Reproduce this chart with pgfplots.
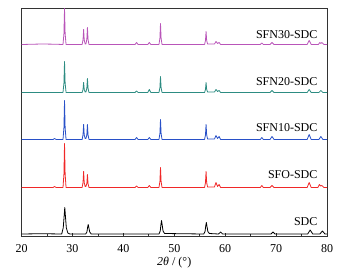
\documentclass[border=0pt]{standalone}
\usepackage{fontspec}
\setmainfont{Liberation Serif}
\usepackage{pgfplots}
\pgfplotsset{compat=1.18}
\definecolor{cSFNthirty}{RGB}{185,85,185}
\definecolor{cSFNtwenty}{RGB}{45,140,130}
\definecolor{cSFNten}{RGB}{40,80,200}
\definecolor{cSFO}{RGB}{240,40,40}
\begin{document}
\begin{tikzpicture}
\useasboundingbox (0,0) rectangle (344pt,271pt);
\begin{axis}[
  at={(21.5pt,34.5pt)}, anchor=south west,
  scale only axis, width=305.5pt, height=228pt,
  xmin=20, xmax=80, ymin=0, ymax=228,
  xtick={20,30,...,80}, minor xtick={25,35,...,75},
  ytick=\empty,
  tick align=inside, xtick pos=bottom,
  major tick length=3.5pt, minor tick length=3pt,
  axis line style={line width=0.8pt, black!80},
  every tick/.style={black!80, line width=0.6pt},
  tick label style={font=\fontsize{12}{12}\selectfont},
  /pgf/number format/assume math mode=true,
  xticklabel style={anchor=center, yshift=-12pt},
  xlabel={\fontsize{12}{12}\selectfont \textit{2θ} / (°)},
  xlabel style={at={(axis description cs:0.5,0)}, anchor=center, yshift=-26pt},
  every axis plot/.append style={line width=0.8pt, line join=round},
]
% SDC
\addplot[black] coordinates {
(20,2.5)(24,2.8)(27.9,2.5)(28.2,8.8)(28.38,20.9)(28.5,29)(28.62,20.9)(28.8,8.8)(29.1,3.5)(29.5,2.5)
(32.6,2.5)(32.85,4.5)(32.98,9)(33.1,12)(33.22,9)(33.4,4.5)(33.7,2.5)
(47.0,2.5)(47.25,5.5)(47.38,11.8)(47.5,16)(47.62,11.8)(47.8,5.5)(48.1,3)
(55.8,2.5)(56.05,5)(56.18,10.4)(56.3,14)(56.42,10.4)(56.6,5)(56.9,3)
(58.7,2.5)(59.1,4.5)(59.5,2.5)
(69.0,2.5)(69.4,4.5)(69.8,2.5)
(76.2,2.5)(76.7,6.5)(77.2,2.5)
(78.6,2.5)(79.1,5.5)(79.6,2.5)(80,2.5)
};
% SFO-SDC
\addplot[cSFO] coordinates {
(20,49)(26.2,49)(26.5,50)(26.8,49)(28.15,49)(28.33,62.2)(28.45,93)(28.57,62.2)(28.75,49)
(31.9,49)(32.08,53.8)(32.2,65)(32.32,53.8)(32.5,50)(32.65,50)(32.83,52.9)(32.95,62)(33.07,52.9)(33.25,49)
(42.3,49)(42.6,50.5)(42.9,49)
(44.8,49)(45.1,51)(45.4,49)
(47.0,49)(47.18,55)(47.3,69)(47.42,55)(47.6,49)
(55.95,49)(56.13,53.8)(56.25,65)(56.37,53.8)(56.55,49.5)
(57.9,49.5)(58.2,54)(58.5,50)(58.8,52)(59.1,49)
(66.9,49)(67.2,51)(67.5,49)
(68.8,49)(69.2,51)(69.6,49)
(76.1,49)(76.5,54)(76.9,49)
(78.2,49)(78.5,52)(78.75,50.5)(79.0,51)(79.4,49)(80,49)
};
% SFN10-SDC
\addplot[cSFNten] coordinates {
(20,97)(26.2,97)(26.5,98)(26.8,97)(28.15,97)(28.33,108.7)(28.45,136)(28.57,108.7)(28.75,97)
(31.9,97)(32.08,101.5)(32.2,112)(32.32,101.5)(32.5,98)(32.65,98)(32.83,101.5)(32.95,112)(33.07,101.5)(33.25,97)
(42.3,97)(42.6,99)(42.9,97)
(44.8,97)(45.1,99)(45.4,97)
(47.0,97)(47.18,103)(47.3,117)(47.42,103)(47.6,97)
(55.95,97)(56.13,101.5)(56.25,112)(56.37,101.5)(56.55,97.5)
(57.9,97.5)(58.2,101)(58.5,98)(58.8,100)(59.1,97)
(66.9,97)(67.2,99)(67.5,97)
(68.8,97)(69.2,100)(69.6,97)
(76.1,97)(76.5,102)(76.9,97)
(78.4,97)(78.8,100)(79.2,97)(80,97)
};
% SFN20-SDC
\addplot[cSFNtwenty] coordinates {
(20,144)(28.15,144)(28.33,153.3)(28.45,175)(28.57,153.3)(28.75,144)
(31.9,144)(32.08,147)(32.2,154)(32.32,147)(32.5,144.5)(32.65,144.5)(32.83,148.2)(32.95,158)(33.07,148.2)(33.25,144)
(42.3,144)(42.6,145.5)(42.9,144)
(44.8,144)(45.1,147)(45.4,144)
(47.0,144)(47.18,148.8)(47.3,160)(47.42,148.8)(47.6,144)
(55.95,144)(56.13,147)(56.25,154)(56.37,147)(56.55,144.5)
(57.9,144.5)(58.2,147)(58.5,145)(58.8,146)(59.1,144)
(68.8,144)(69.2,146)(69.6,144)
(76.1,144)(76.5,147)(76.9,144)
(78.4,144)(78.8,146)(79.2,144)(80,144)
};
% SFN30-SDC
\addplot[cSFNthirty] coordinates {
(20,192)(24,192.5)(26.5,192.3)(28.15,192)(28.33,202.8)(28.45,228)(28.57,202.8)(28.75,192)
(31.9,192)(32.08,196.5)(32.2,207)(32.32,196.5)(32.5,192.5)(32.65,192.5)(32.83,197.1)(32.95,209)(33.07,197.1)(33.25,192)
(42.3,192)(42.6,194)(42.9,192)
(44.8,192)(45.1,194)(45.4,192)
(47.0,192)(47.18,198.3)(47.3,213)(47.42,198.3)(47.6,192)
(55.95,192)(56.13,195.9)(56.25,205)(56.37,195.9)(56.55,192.5)
(57.9,192.5)(58.2,195)(58.5,193)(58.8,194)(59.1,192)
(66.9,192)(67.2,193.5)(67.5,192)
(68.8,192)(69.2,194)(69.6,192)
(76.1,192)(76.5,196)(76.9,192)
(78.3,192)(78.6,194)(78.8,193)(79.0,194)(79.4,192)(80,192)
};
\node[anchor=east, font=\fontsize{12}{12}\selectfont] at (axis cs:78.8,202) {SFN30-SDC};
\node[anchor=east, font=\fontsize{12}{12}\selectfont] at (axis cs:78.8,154.5) {SFN20-SDC};
\node[anchor=east, font=\fontsize{12}{12}\selectfont] at (axis cs:78.8,109) {SFN10-SDC};
\node[anchor=east, font=\fontsize{12}{12}\selectfont] at (axis cs:78.8,62) {SFO-SDC};
\node[anchor=east, font=\fontsize{12}{12}\selectfont] at (axis cs:78.8,14.5) {SDC};
\end{axis}
\end{tikzpicture}
\end{document}
